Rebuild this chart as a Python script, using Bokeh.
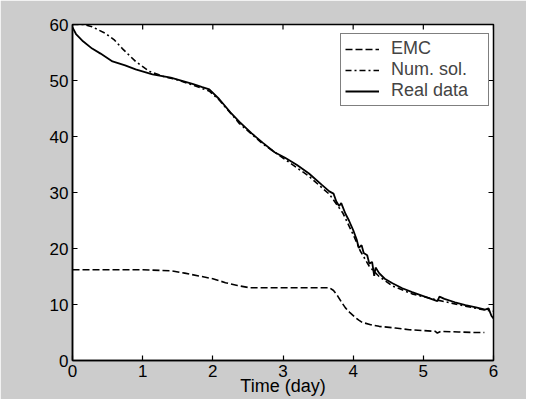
import math
from bokeh.plotting import figure
from bokeh.models import Range1d, FixedTicker, Legend, LegendItem
from bokeh.embed import file_html
from bokeh.resources import INLINE

# ---- data ----
emc_t = [0.0, 0.5, 1.0, 1.42, 1.6, 1.8, 2.0, 2.18, 2.35, 2.52, 2.8, 3.1, 3.4, 3.66, 3.72, 3.78,
         3.84, 3.89, 3.95, 4.02, 4.08, 4.13, 4.25, 4.37, 4.6, 4.8, 5.0, 5.17, 5.2, 5.25, 5.5, 5.7, 5.87]
emc_v = [16.2, 16.2, 16.2, 16.0, 15.6, 15.1, 14.6, 13.9, 13.4, 13.0, 13.0, 13.0, 13.0, 13.0, 12.5, 11.5,
         10.3, 9.4, 8.6, 7.8, 7.2, 6.8, 6.4, 6.1, 5.8, 5.5, 5.35, 5.2, 4.9, 5.2, 5.1, 5.0, 5.0]

num_t = [0.0, 0.15, 0.28, 0.47, 0.6, 0.71, 0.9, 1.1, 1.3, 1.5, 1.71, 1.95, 2.1, 2.38, 2.71, 3.03,
         3.37, 3.66, 3.85, 4.0, 4.1, 4.23, 4.37, 4.56, 4.84, 5.2, 5.6, 5.88, 6.0]
num_v = [60.0, 60.0, 59.6, 58.4, 57.2, 55.7, 53.4, 51.6, 50.7, 50.1, 49.2, 48.1, 46.4, 42.3, 38.7, 35.9,
         32.9, 29.7, 26.4, 22.5, 19.6, 16.8, 15.0, 13.3, 11.9, 10.8, 9.7, 9.0, 8.8]

real_t = [0.0, 0.05, 0.15, 0.28, 0.4, 0.57, 0.75, 0.9, 1.14, 1.4, 1.71, 1.85, 1.95, 2.09, 2.25, 2.38,
          2.55, 2.71, 2.88, 3.03, 3.2, 3.37, 3.55, 3.66, 3.72, 3.76, 3.8, 3.83, 3.89, 3.94, 4.0,
          4.05, 4.08, 4.12, 4.15, 4.2, 4.23, 4.27, 4.3, 4.32, 4.37, 4.45, 4.56, 4.7, 4.84, 5.0,
          5.2, 5.23, 5.3, 5.45, 5.6, 5.75, 5.88, 5.93, 5.97, 6.0]
real_v = [59.5, 58.3, 57.0, 55.7, 54.8, 53.4, 52.7, 52.0, 51.1, 50.5, 49.4, 48.8, 48.4, 46.7, 44.3, 42.6,
          40.6, 38.9, 37.2, 36.2, 34.9, 33.4, 31.4, 30.2, 29.8, 28.4, 27.6, 28.1, 26.2, 25.0, 23.3,
          21.6, 20.1, 20.6, 19.2, 18.8, 17.3, 17.6, 15.1, 16.6, 15.6, 14.6, 13.8, 12.9, 12.2, 11.5,
          10.6, 11.4, 11.0, 10.4, 9.9, 9.5, 9.1, 9.3, 8.0, 7.5]

x_ticks = [0, 1, 2, 3, 4, 5, 6]
y_ticks = [0, 10, 20, 30, 40, 50, 60]
X_MAX = 6
Y_MAX = 60

FONT = "Liberation Sans"
GRAY = "#cccccc"

p = figure(width=534, height=399, output_backend="svg", toolbar_location=None,
           x_range=Range1d(0, X_MAX), y_range=Range1d(0, Y_MAX),
           background_fill_color="white", border_fill_color=GRAY,
           min_border_left=72, min_border_top=24, min_border_right=33, min_border_bottom=39,
           frame_width=421, frame_height=336)
p.outline_line_color = "black"
p.outline_line_width = 1.5
p.grid.visible = False

for ax in (p.xaxis[0], p.yaxis[0]):
    ax.major_tick_in = 5
    ax.major_tick_out = 0
    ax.minor_tick_in = 0
    ax.minor_tick_out = 0
    ax.axis_line_width = 1.5
    ax.major_tick_line_width = 1.2
    ax.major_label_text_font = FONT
    ax.major_label_text_font_size = "17px"
    ax.major_label_text_color = "black"
p.xaxis[0].ticker = FixedTicker(ticks=x_ticks)
p.yaxis[0].ticker = FixedTicker(ticks=y_ticks)
p.xaxis[0].major_label_standoff = 4
p.yaxis[0].major_label_standoff = 4
p.xaxis[0].axis_label = "Time (day)"
p.xaxis[0].axis_label_text_font = FONT
p.xaxis[0].axis_label_text_font_size = "18px"
p.xaxis[0].axis_label_text_font_style = "normal"
p.xaxis[0].axis_label_text_color = "black"
p.xaxis[0].axis_label_standoff = -4

# inward ticks on the top and right edges of the box
p.ray(x=x_ticks, y=[Y_MAX] * len(x_ticks), length=5, length_units="screen",
      angle=-math.pi / 2, line_color="black", line_width=1.2)
p.ray(x=[X_MAX] * len(y_ticks), y=y_ticks, length=5, length_units="screen",
      angle=math.pi, line_color="black", line_width=1.2)

r_emc = p.line(emc_t, emc_v, line_color="black", line_width=1.6, line_dash="7 3")
r_num = p.line(num_t, num_v, line_color="black", line_width=1.6, line_dash="6 3 2 3")
r_real = p.line(real_t, real_v, line_color="black", line_width=1.8)

legend = Legend(items=[LegendItem(label="EMC", renderers=[r_emc]),
                       LegendItem(label="Num. sol.", renderers=[r_num]),
                       LegendItem(label="Real data", renderers=[r_real])],
                location=(268, 254), margin=0, padding=4, spacing=0,
                glyph_width=34, glyph_height=20, label_height=20, label_width=93,
                label_standoff=12,
                label_text_font=FONT, label_text_font_size="18px",
                border_line_color="black", border_line_width=1,
                background_fill_color="white", background_fill_alpha=1)
p.add_layout(legend, "center")

open("out.html", "w").write(file_html(p, INLINE))
